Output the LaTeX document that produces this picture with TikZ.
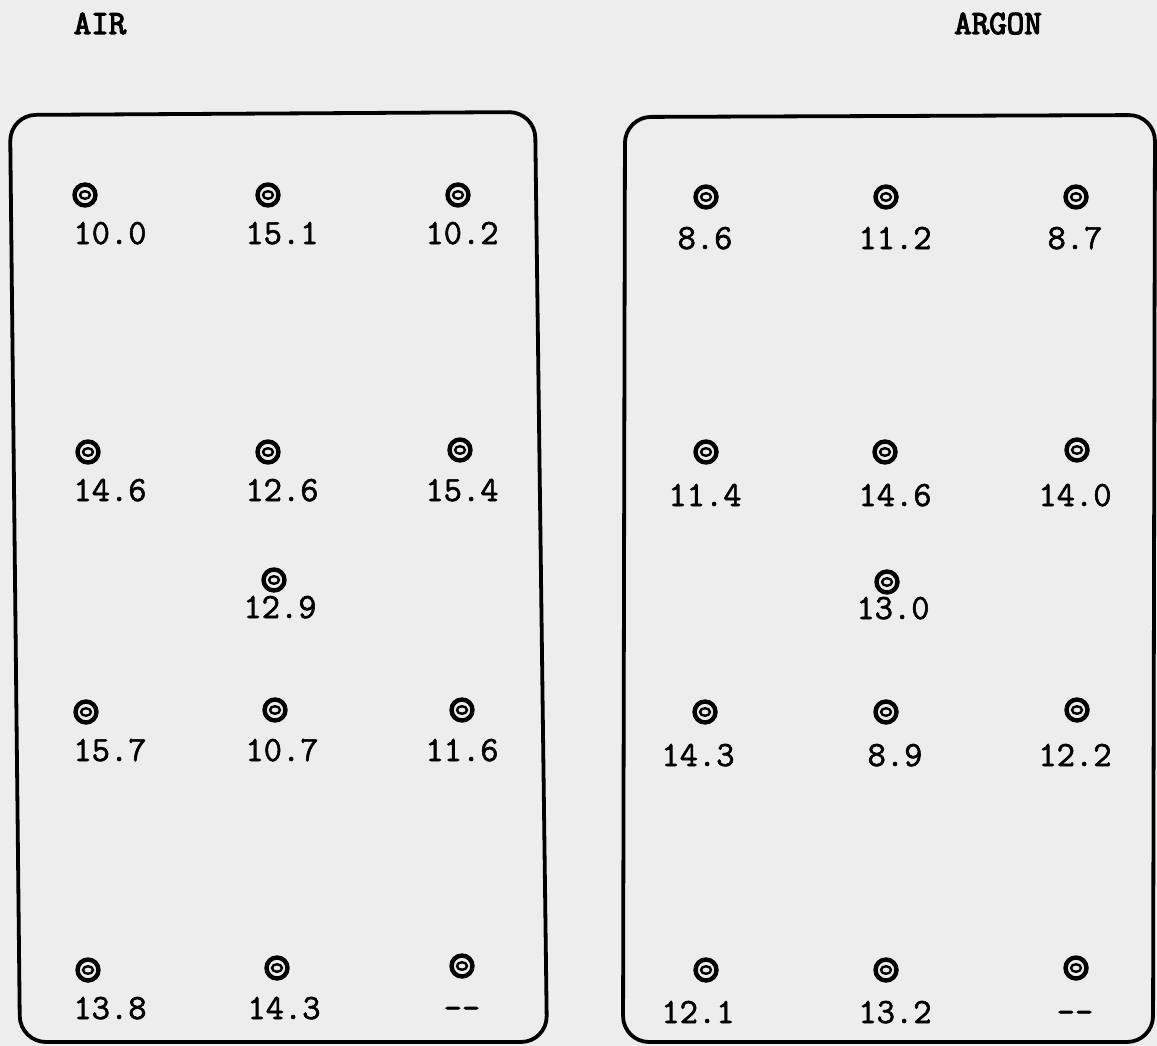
\documentclass[tikz,border=0pt]{standalone}
\usepackage{fontspec}
\newfontfamily\valfont{Latin Modern Mono}[FakeBold=1.6]
\newfontfamily\ttlfont{Latin Modern Mono}[FakeBold=3.5]
\begin{document}
\begin{tikzpicture}[x=1pt,y=-1pt,
  frame/.style={line width=3.8pt, rounded corners=26pt},
  ring/.style={circle, draw, line width=4.4pt, minimum size=21pt, inner sep=0pt,
    path picture={\draw[line width=2.4pt] (path picture bounding box.center) ellipse (5pt and 3.8pt);}},
  val/.style={anchor=base, font=\valfont\fontsize{35.5}{36}\selectfont, inner sep=0pt},
  ttl/.style={anchor=base, font=\ttlfont\fontsize{34}{34}\selectfont, inner sep=0pt}]
\fill[white!93!black] (0,0) rectangle (1157,1046);
\useasboundingbox (0,0) rectangle (1157,1046);
% titles
\node[ttl] (tair) at (100,34) {AIR};
\node[ttl] (targon) at (998,34) {ARGON};
% frames
\draw[frame] (10,115) -- (535,112) -- (547,1042) -- (20,1042) -- cycle;
\draw[frame] (625,117) -- (1155,115) -- (1153,1042) -- (623,1042) -- cycle;
% AIR markers and values
\node[ring] (a1) at (85,195) {};  \node[val] (la1) at (110,244) {10.0};
\node[ring] (a2) at (268,195) {}; \node[val] (la2) at (282,244) {15.1};
\node[ring] (a3) at (458,195) {}; \node[val] (la3) at (462,244) {10.2};
\node[ring] (a4) at (88,452) {};  \node[val] (la4) at (110,501) {14.6};
\node[ring] (a5) at (268,452) {}; \node[val] (la5) at (282,501) {12.6};
\node[ring] (a6) at (460,450) {}; \node[val] (la6) at (462,501) {15.4};
\node[ring] (a7) at (274,580) {}; \node[val] (la7) at (280,618) {12.9};
\node[ring] (a8) at (86,712) {};  \node[val] (la8) at (110,761) {15.7};
\node[ring] (a9) at (275,710) {}; \node[val] (la9) at (282,761) {10.7};
\node[ring] (a10) at (462,710) {}; \node[val] (la10) at (462,761) {11.6};
\node[ring] (a11) at (88,970) {};  \node[val] (la11) at (110,1019) {13.8};
\node[ring] (a12) at (277,968) {}; \node[val] (la12) at (284,1019) {14.3};
\node[ring] (a13) at (462,966) {}; \node[val] (la13) at (462,1019) {-{}-};
% ARGON markers and values
\node[ring] (r1) at (706,197) {};  \node[val] (lr1) at (705,249) {8.6};
\node[ring] (r2) at (886,197) {};  \node[val] (lr2) at (895,249) {11.2};
\node[ring] (r3) at (1076,197) {}; \node[val] (lr3) at (1075,249) {8.7};
\node[ring] (r4) at (706,452) {};  \node[val] (lr4) at (705,506) {11.4};
\node[ring] (r5) at (885,452) {};  \node[val] (lr5) at (895,506) {14.6};
\node[ring] (r6) at (1077,450) {}; \node[val] (lr6) at (1075,506) {14.0};
\node[ring] (r7) at (887,582) {};  \node[val] (lr7) at (893,619) {13.0};
\node[ring] (r8) at (705,712) {};  \node[val] (lr8) at (698,766) {14.3};
\node[ring] (r9) at (886,712) {};  \node[val] (lr9) at (895,766) {8.9};
\node[ring] (r10) at (1077,710) {}; \node[val] (lr10) at (1075,766) {12.2};
\node[ring] (r11) at (706,970) {};  \node[val] (lr11) at (698,1023) {12.1};
\node[ring] (r12) at (886,970) {};  \node[val] (lr12) at (895,1023) {13.2};
\node[ring] (r13) at (1076,968) {}; \node[val] (lr13) at (1075,1023) {-{}-};
\end{tikzpicture}
\end{document}
